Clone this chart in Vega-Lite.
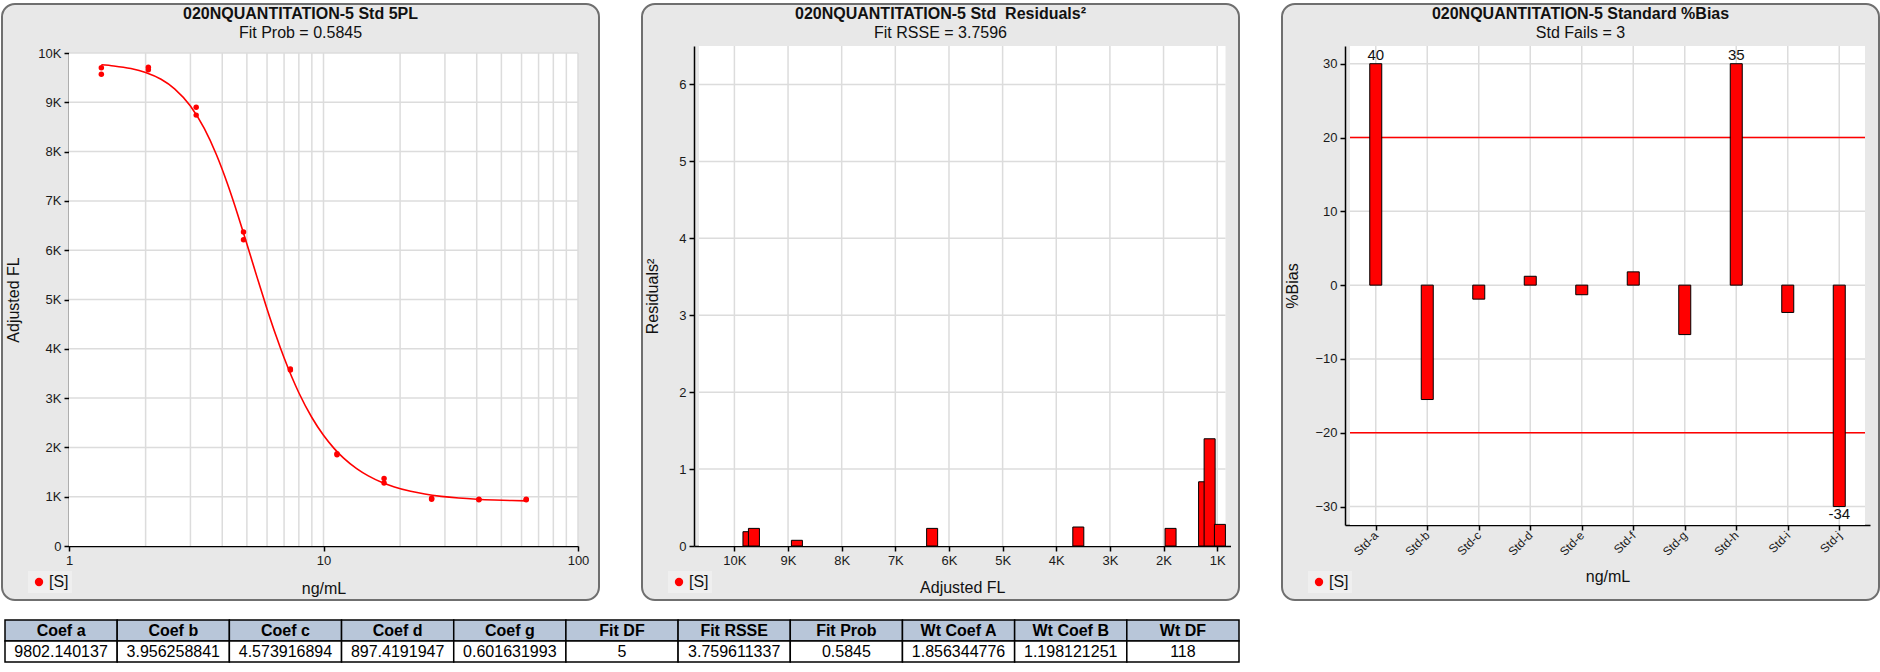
{
  "$schema": "https://vega.github.io/schema/vega-lite/v6.json",
  "padding": {"left": 1, "top": 3, "right": 0, "bottom": 0},
  "background": "#ffffff",
  "bounds": "full",
  "spacing": 18,
  "resolve": {"scale": {"color": "independent"}, "legend": {"color": "independent"}},
  "vconcat": [
    {
      "hconcat": [
        {
          "width": 597,
          "height": 596,
          "view": {"fill": "#e8e8e8", "stroke": "#6f6f6f", "strokeWidth": 2, "cornerRadius": 13},
          "title": {"text": "020NQUANTITATION-5 Std 5PL", "subtitle": "Fit Prob = 0.5845"},
          "layer": [
            {
              "data": {"values": [{}]},
              "mark": {"type": "rect", "fill": "#ffffff"},
              "encoding": {
                "x": {"datum": 1, "type": "quantitative", "scale": {"type": "log", "domain": [1, 100], "range": [67, 576]},
                  "axis": {"title": "ng/mL", "values": [1, 10, 100], "format": "d", "offset": -54, "titlePadding": 13, "labelFlush": false}},
                "x2": {"datum": 100},
                "y": {"datum": 0, "type": "quantitative", "scale": {"domain": [0, 10000], "range": [542, 49], "nice": false, "zero": false},
                  "axis": {"title": "Adjusted FL", "values": [0, 1000, 2000, 3000, 4000, 5000, 6000, 7000, 8000, 9000, 10000], "labelExpr": "datum.value == 0 ? '0' : (datum.value / 1000) + 'K'", "offset": -67, "titlePadding": 16}},
                "y2": {"datum": 10000}
              }
            },
            {
              "data": {"values": [{"v": 2}, {"v": 3}, {"v": 4}, {"v": 5}, {"v": 6}, {"v": 7}, {"v": 8}, {"v": 9}, {"v": 10}, {"v": 20}, {"v": 30}, {"v": 40}, {"v": 50}, {"v": 60}, {"v": 70}, {"v": 80}, {"v": 90}, {"v": 100}]},
              "mark": {"type": "rule", "color": "#dcdcdc", "strokeWidth": 1.5},
              "encoding": {"x": {"field": "v", "type": "quantitative"}, "y": {"datum": 0}, "y2": {"datum": 10000}}
            },
            {
              "data": {"values": [{"v": 1000}, {"v": 2000}, {"v": 3000}, {"v": 4000}, {"v": 5000}, {"v": 6000}, {"v": 7000}, {"v": 8000}, {"v": 9000}, {"v": 10000}]},
              "mark": {"type": "rule", "color": "#dcdcdc", "strokeWidth": 1.5},
              "encoding": {"y": {"field": "v", "type": "quantitative"}, "x": {"datum": 1}, "x2": {"datum": 100}}
            },
            {
              "data": {"values": [
                {"conc": 1.34, "fl": 9760.7}, {"conc": 1.5, "fl": 9737.7}, {"conc": 1.75, "fl": 9684.5}, {"conc": 2, "fl": 9605.0},
                {"conc": 2.3, "fl": 9466.7}, {"conc": 2.6, "fl": 9273.7}, {"conc": 3, "fl": 8923.3}, {"conc": 3.4, "fl": 8469.3},
                {"conc": 3.8, "fl": 7930.3}, {"conc": 4.2, "fl": 7337.5}, {"conc": 4.6, "fl": 6726.2}, {"conc": 5, "fl": 6126.9},
                {"conc": 5.5, "fl": 5428.8}, {"conc": 6, "fl": 4808.6}, {"conc": 6.5, "fl": 4272.6}, {"conc": 7, "fl": 3816.7},
                {"conc": 7.5, "fl": 3432.2}, {"conc": 8, "fl": 3108.6}, {"conc": 9, "fl": 2606.2}, {"conc": 10, "fl": 2245.1},
                {"conc": 11, "fl": 1980.3}, {"conc": 12, "fl": 1782.5}, {"conc": 13.5, "fl": 1569.3}, {"conc": 15, "fl": 1421.8},
                {"conc": 17, "fl": 1287.6}, {"conc": 19, "fl": 1197.2}, {"conc": 22, "fl": 1109.0}, {"conc": 25, "fl": 1053.6},
                {"conc": 29, "fl": 1007.2}, {"conc": 34, "fl": 972.6}, {"conc": 40, "fl": 948.5}, {"conc": 47, "fl": 932.2},
                {"conc": 55, "fl": 921.4}, {"conc": 62.6, "fl": 915.0}
              ]},
              "mark": {"type": "line", "color": "#ff0000", "strokeWidth": 1.6, "interpolate": "monotone"},
              "encoding": {"x": {"field": "conc", "type": "quantitative"}, "y": {"field": "fl", "type": "quantitative"}}
            },
            {
              "data": {"values": [
                {"conc": 1.34, "fl": 9700, "series": "[S]"}, {"conc": 1.34, "fl": 9570, "series": "[S]"},
                {"conc": 2.05, "fl": 9710, "series": "[S]"}, {"conc": 2.05, "fl": 9660, "series": "[S]"},
                {"conc": 3.16, "fl": 8900, "series": "[S]"}, {"conc": 3.16, "fl": 8740, "series": "[S]"},
                {"conc": 4.85, "fl": 6370, "series": "[S]"}, {"conc": 4.85, "fl": 6210, "series": "[S]"},
                {"conc": 7.41, "fl": 3590, "series": "[S]"}, {"conc": 7.41, "fl": 3570, "series": "[S]"},
                {"conc": 11.3, "fl": 1870, "series": "[S]"}, {"conc": 11.3, "fl": 1850, "series": "[S]"},
                {"conc": 17.3, "fl": 1370, "series": "[S]"}, {"conc": 17.3, "fl": 1280, "series": "[S]"},
                {"conc": 26.6, "fl": 970, "series": "[S]"}, {"conc": 26.6, "fl": 950, "series": "[S]"},
                {"conc": 40.8, "fl": 950, "series": "[S]"}, {"conc": 40.8, "fl": 940, "series": "[S]"},
                {"conc": 62.6, "fl": 950, "series": "[S]"}, {"conc": 62.6, "fl": 940, "series": "[S]"}
              ]},
              "mark": {"type": "point", "filled": true, "size": 30, "opacity": 1, "shape": "circle"},
              "encoding": {
                "x": {"field": "conc", "type": "quantitative"},
                "y": {"field": "fl", "type": "quantitative"},
                "color": {"field": "series", "type": "nominal", "scale": {"range": ["#ff0000"]},
                  "legend": {"orient": "none", "legendX": 26, "legendY": 567, "title": null}}
              }
            }
          ]
        },
        {
          "width": 597,
          "height": 596,
          "view": {"fill": "#e8e8e8", "stroke": "#6f6f6f", "strokeWidth": 2, "cornerRadius": 13},
          "title": {"text": "020NQUANTITATION-5 Std \u00a0Residuals²", "subtitle": "Fit RSSE = 3.7596"},
          "layer": [
            {
              "data": {"values": [{}]},
              "mark": {"type": "rect", "fill": "#ffffff"},
              "encoding": {
                "x": {"datum": 845, "type": "quantitative", "scale": {"domain": [845, 10660], "range": [588.5, 52], "nice": false, "zero": false},
                  "axis": {"title": "Adjusted FL", "values": [1000, 2000, 3000, 4000, 5000, 6000, 7000, 8000, 9000, 10000], "labelExpr": "(datum.value / 1000) + 'K'", "offset": -54, "titlePadding": 12, "labelFlush": false}},
                "x2": {"datum": 10660},
                "y": {"datum": 0, "type": "quantitative", "scale": {"domain": [0, 6.5], "range": [542, 42], "nice": false, "zero": false},
                  "axis": {"title": "Residuals²", "values": [0, 1, 2, 3, 4, 5, 6], "format": "d", "offset": -52, "titlePadding": 18}},
                "y2": {"datum": 6.5}
              }
            },
            {
              "data": {"values": [{"v": 1000}, {"v": 2000}, {"v": 3000}, {"v": 4000}, {"v": 5000}, {"v": 6000}, {"v": 7000}, {"v": 8000}, {"v": 9000}, {"v": 10000}]},
              "mark": {"type": "rule", "color": "#dcdcdc", "strokeWidth": 1.5},
              "encoding": {"x": {"field": "v", "type": "quantitative"}, "y": {"datum": 0}, "y2": {"datum": 6.5}}
            },
            {
              "data": {"values": [{"v": 1}, {"v": 2}, {"v": 3}, {"v": 4}, {"v": 5}, {"v": 6}]},
              "mark": {"type": "rule", "color": "#dcdcdc", "strokeWidth": 1.5},
              "encoding": {"y": {"field": "v", "type": "quantitative"}, "x": {"datum": 845}, "x2": {"datum": 10660}}
            },
            {
              "data": {"values": [
                {"fl": 9738, "r2": 0.186, "series": "[S]"}, {"fl": 9636, "r2": 0.229, "series": "[S]"},
                {"fl": 8835, "r2": 0.074, "series": "[S]"}, {"fl": 6314, "r2": 0.229, "series": "[S]"},
                {"fl": 3589, "r2": 0.247, "series": "[S]"}, {"fl": 1869, "r2": 0.229, "series": "[S]"},
                {"fl": 1244, "r2": 0.835, "series": "[S]"}, {"fl": 1141, "r2": 1.394, "series": "[S]"},
                {"fl": 949, "r2": 0.281, "series": "[S]"}
              ]},
              "mark": {"type": "bar", "size": 11, "stroke": "#000000", "strokeWidth": 1, "orient": "vertical"},
              "encoding": {
                "x": {"field": "fl", "type": "quantitative"},
                "y": {"field": "r2", "type": "quantitative"},
                "y2": {"datum": 0},
                "color": {"field": "series", "type": "nominal", "scale": {"range": ["#ff0000"]},
                  "legend": {"orient": "none", "legendX": 26, "legendY": 567, "title": null}}
              }
            }
          ]
        },
        {
          "width": 597,
          "height": 596,
          "view": {"fill": "#e8e8e8", "stroke": "#6f6f6f", "strokeWidth": 2, "cornerRadius": 13},
          "title": {"text": "020NQUANTITATION-5 Standard %Bias", "subtitle": "Std Fails = 3"},
          "layer": [
            {
              "data": {"values": [{}]},
              "mark": {"type": "rect", "fill": "#ffffff"},
              "encoding": {
                "x": {"datum": 0.5, "type": "quantitative", "scale": {"domain": [0.5, 10.5], "range": [63, 588], "nice": false, "zero": false},
                  "axis": {"title": "ng/mL", "values": [1, 2, 3, 4, 5, 6, 7, 8, 9, 10], "labelExpr": "'Std-' + ['a','b','c','d','e','f','g','h','i','j'][datum.value - 1]", "labelAngle": -45, "labelAlign": "right", "labelBaseline": "middle", "labelFontSize": 12, "offset": -75, "titlePadding": 11, "labelFlush": false}},
                "x2": {"datum": 10.5},
                "y": {"datum": -32.5, "type": "quantitative", "scale": {"domain": [-32.5, 32.4], "range": [521, 42], "nice": false, "zero": false},
                  "axis": {"title": "%Bias", "values": [-30, -20, -10, 0, 10, 20, 30], "format": "d", "offset": -63, "titlePadding": 14}},
                "y2": {"datum": 32.4}
              }
            },
            {
              "data": {"values": [{"v": 1}, {"v": 2}, {"v": 3}, {"v": 4}, {"v": 5}, {"v": 6}, {"v": 7}, {"v": 8}, {"v": 9}, {"v": 10}]},
              "mark": {"type": "rule", "color": "#dcdcdc", "strokeWidth": 1.5},
              "encoding": {"x": {"field": "v", "type": "quantitative"}, "y": {"datum": -32.5}, "y2": {"datum": 32.4}}
            },
            {
              "data": {"values": [{"v": -30}, {"v": -20}, {"v": -10}, {"v": 0}, {"v": 10}, {"v": 20}, {"v": 30}]},
              "mark": {"type": "rule", "color": "#dcdcdc", "strokeWidth": 1.5},
              "encoding": {"y": {"field": "v", "type": "quantitative"}, "x": {"datum": 0.5}, "x2": {"datum": 10.5}}
            },
            {
              "data": {"values": [{"limit": 20}, {"limit": -20}]},
              "mark": {"type": "rule", "color": "#ff0000", "strokeWidth": 1.5},
              "encoding": {"y": {"field": "limit", "type": "quantitative"}, "x": {"datum": 0.5}, "x2": {"datum": 10.5}}
            },
            {
              "data": {"name": "bias"},
              "mark": {"type": "bar", "size": 12, "stroke": "#000000", "strokeWidth": 1, "orient": "vertical"},
              "encoding": {
                "x": {"field": "idx", "type": "quantitative"},
                "y": {"field": "bar", "type": "quantitative"},
                "y2": {"datum": 0},
                "color": {"field": "series", "type": "nominal", "scale": {"range": ["#ff0000"]},
                  "legend": {"orient": "none", "legendX": 26, "legendY": 567, "title": null}}
              }
            },
            {
              "data": {"name": "bias"},
              "transform": [{"filter": "datum.label != '' && datum.bar > 0"}],
              "mark": {"type": "text", "baseline": "bottom", "dy": -1, "fontSize": 15, "color": "#111111"},
              "encoding": {"x": {"field": "idx", "type": "quantitative"}, "y": {"field": "bar", "type": "quantitative"}, "text": {"field": "label"}}
            },
            {
              "data": {"name": "bias"},
              "transform": [{"filter": "datum.label != '' && datum.bar < 0"}],
              "mark": {"type": "text", "baseline": "top", "dy": 0, "fontSize": 15, "color": "#111111"},
              "encoding": {"x": {"field": "idx", "type": "quantitative"}, "y": {"field": "bar", "type": "quantitative"}, "text": {"field": "label"}}
            }
          ]
        }
      ],
      "spacing": 43,
      "bounds": "flush",
      "resolve": {"scale": {"color": "independent"}, "legend": {"color": "independent"}}
    },
    {
      "width": 1237,
      "height": 42,
      "view": {"stroke": null, "fill": null},
      "data": {"values": [
        {"col": "Coef a", "row": "head", "text": "Coef a"}, {"col": "Coef b", "row": "head", "text": "Coef b"},
        {"col": "Coef c", "row": "head", "text": "Coef c"}, {"col": "Coef d", "row": "head", "text": "Coef d"},
        {"col": "Coef g", "row": "head", "text": "Coef g"}, {"col": "Fit DF", "row": "head", "text": "Fit DF"},
        {"col": "Fit RSSE", "row": "head", "text": "Fit RSSE"}, {"col": "Fit Prob", "row": "head", "text": "Fit Prob"},
        {"col": "Wt Coef A", "row": "head", "text": "Wt Coef A"}, {"col": "Wt Coef B", "row": "head", "text": "Wt Coef B"},
        {"col": "Wt DF", "row": "head", "text": "Wt DF"},
        {"col": "Coef a", "row": "data", "text": "9802.140137"}, {"col": "Coef b", "row": "data", "text": "3.956258841"},
        {"col": "Coef c", "row": "data", "text": "4.573916894"}, {"col": "Coef d", "row": "data", "text": "897.4191947"},
        {"col": "Coef g", "row": "data", "text": "0.601631993"}, {"col": "Fit DF", "row": "data", "text": "5"},
        {"col": "Fit RSSE", "row": "data", "text": "3.759611337"}, {"col": "Fit Prob", "row": "data", "text": "0.5845"},
        {"col": "Wt Coef A", "row": "data", "text": "1.856344776"}, {"col": "Wt Coef B", "row": "data", "text": "1.198121251"},
        {"col": "Wt DF", "row": "data", "text": "118"}
      ]},
      "encoding": {
        "x": {"field": "col", "type": "nominal", "sort": ["Coef a", "Coef b", "Coef c", "Coef d", "Coef g", "Fit DF", "Fit RSSE", "Fit Prob", "Wt Coef A", "Wt Coef B", "Wt DF"],
          "scale": {"range": [3, 1237], "paddingInner": 0, "paddingOuter": 0}, "axis": null},
        "y": {"field": "row", "type": "nominal", "sort": ["head", "data"], "scale": {"range": [0, 42], "paddingInner": 0, "paddingOuter": 0}, "axis": null}
      },
      "layer": [
        {
          "mark": {"type": "rect", "stroke": "#000000", "strokeWidth": 1.5},
          "encoding": {"fill": {"field": "row", "type": "nominal", "scale": {"domain": ["head", "data"], "range": ["#b8c6d9", "#ffffff"]}, "legend": null}}
        },
        {
          "transform": [{"filter": "datum.row == 'head'"}],
          "mark": {"type": "text", "fontWeight": "bold", "fontSize": 16, "font": "Liberation Sans", "color": "#000000"},
          "encoding": {"text": {"field": "text"}}
        },
        {
          "transform": [{"filter": "datum.row == 'data'"}],
          "mark": {"type": "text", "fontSize": 16, "font": "Liberation Sans", "color": "#000000"},
          "encoding": {"text": {"field": "text"}}
        }
      ]
    }
  ],
  "datasets": {
    "bias": [
      {"idx": 1, "std": "Std-a", "bias": 40, "bar": 30, "label": "40", "series": "[S]"},
      {"idx": 2, "std": "Std-b", "bias": -15.5, "bar": -15.5, "label": "", "series": "[S]"},
      {"idx": 3, "std": "Std-c", "bias": -1.9, "bar": -1.9, "label": "", "series": "[S]"},
      {"idx": 4, "std": "Std-d", "bias": 1.2, "bar": 1.2, "label": "", "series": "[S]"},
      {"idx": 5, "std": "Std-e", "bias": -1.3, "bar": -1.3, "label": "", "series": "[S]"},
      {"idx": 6, "std": "Std-f", "bias": 1.8, "bar": 1.8, "label": "", "series": "[S]"},
      {"idx": 7, "std": "Std-g", "bias": -6.7, "bar": -6.7, "label": "", "series": "[S]"},
      {"idx": 8, "std": "Std-h", "bias": 35, "bar": 30, "label": "35", "series": "[S]"},
      {"idx": 9, "std": "Std-i", "bias": -3.7, "bar": -3.7, "label": "", "series": "[S]"},
      {"idx": 10, "std": "Std-j", "bias": -34, "bar": -30, "label": "-34", "series": "[S]"}
    ]
  },
  "config": {
    "font": "Liberation Sans",
    "view": {"stroke": null},
    "axis": {
      "grid": false,
      "zindex": 1,
      "labelFont": "Liberation Sans",
      "labelFontSize": 13,
      "labelColor": "#1a1a1a",
      "labelPadding": 3,
      "labelOverlap": false,
      "titleFont": "Liberation Sans",
      "titleFontSize": 16,
      "titleFontWeight": "normal",
      "titleColor": "#111111",
      "domainColor": "#000000",
      "domainWidth": 1.5,
      "tickColor": "#000000",
      "tickWidth": 1.5,
      "tickSize": 5
    },
    "legend": {
      "symbolType": "circle",
      "symbolSize": 70,
      "symbolStrokeWidth": 0,
      "labelFont": "Liberation Sans",
      "labelFontSize": 16,
      "labelColor": "#111111",
      "labelOffset": 2,
      "fillColor": "#efefef",
      "padding": 3
    },
    "title": {
      "anchor": "middle",
      "frame": "group",
      "offset": -37,
      "font": "Liberation Sans Narrow, Arial Narrow, Liberation Sans, sans-serif",
      "fontSize": 16,
      "fontWeight": "bold",
      "color": "#111111",
      "subtitleFont": "Liberation Sans Narrow, Arial Narrow, Liberation Sans, sans-serif",
      "subtitleFontSize": 16,
      "subtitleColor": "#111111",
      "subtitlePadding": 3
    }
  }
}
